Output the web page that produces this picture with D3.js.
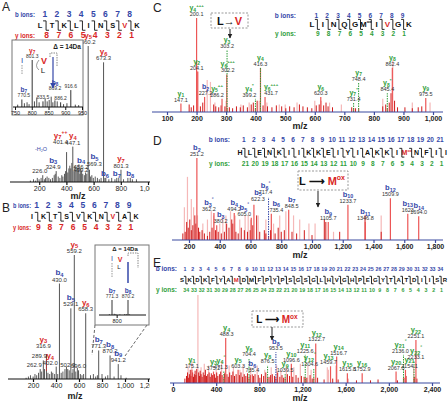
<!DOCTYPE html>
<html><head><meta charset="utf-8">
<script src="https://cdn.jsdelivr.net/npm/d3@7"></script>
<style>body{margin:0;background:#fff}svg{display:block;font-family:Arial,"Liberation Sans",sans-serif}</style>
</head><body><svg id="c" width="448" height="406"></svg>
<script>
// ---------------- DATA ----------------
const seqA = ["L","T","K","L","I","N","S","V","K"];
const seqB = ["I","K","T","S","V","K","N","V","A","K"];
const seqC = ["L","I","N","Q","G","M","I","V","G","K"];
const seqD = ["H","L","E","N","K","I","I","K","K","E","I","Y","I","A","K","K","I","M","N","F","I","I"];
const seqE = ["S","K","D","K","F","Y","A","M","D","M","F","P","Y","P","S","G","S","G","L","H","V","G","H","P","E","G","Y","T","A","T","D","I","I","S","R"];

const ticksA = [200,400,600,800,1000];
const ticksB = [200,400,600,800,1000,1200];
const ticksC = [100,200,300,400,500,600,700,800,900,1000];
const ticksD = [200,400,600,800,1000,1200,1400,1600,1800];
const ticksE = [0,400,800,1200,1600,2000,2400];
const ticksInsetA = [750,800,850,900,950];
const ticksInsetB = [800];

// Panel A labelled peaks
const aMz  = [560.2,673.3,447.1,401.4,456.2,569.3,324.9,226.0,499.2,801.3,683.4,770.5,869.5];
const aInt = [1.0,0.88,0.26,0.22,0.08,0.09,0.08,0.05,0.06,0.09,0.03,0.03,0.03];
const aIon = ["y5","y6","y4","y7++","b4","b5","b3","","","y7","b6","b7","b8"];
const aVal = ["560.2","673.3","447.1","401.4","456.2","569.3","324.9","226.0","499.2","801.3","","",""];
const aNoiseMz  = [135,158,172,186,199,214,238,247,258,271,283,297,310,318,340,352,366,374,386,394,410,418,425,432,440,462,470,478,485,492,505,512,520,532,541,550,578,587,598,612,628,642,655,690,712,733,757,785,820,852,885,915];
const aNoiseInt = [.01,.02,.01,.03,.02,.03,.02,.03,.04,.03,.02,.03,.05,.06,.04,.03,.05,.04,.06,.08,.07,.1,.12,.1,.14,.12,.09,.11,.1,.13,.1,.08,.06,.05,.07,.06,.04,.05,.03,.04,.03,.02,.03,.03,.02,.03,.02,.03,.02,.03,.02,.02];
// Panel A inset
const aiMz  = [801.3,770.5,833.5,869.2,886.2,916.6];
const aiInt = [1.0,0.16,0.12,0.14,0.1,0.36];
const aiIon = ["y7","b7","","b8","",""];
const aiVal = ["801.3","770.5","833.5","869.2","886.2","916.6"];
const aiNoiseMz  = [758,778,786,792,808,815,822,840,846,852,858,863,876,895,905,930,940];
const aiNoiseInt = [.05,.08,.1,.06,.12,.2,.1,.18,.12,.15,.22,.1,.12,.06,.08,.05,.04];

// Panel B labelled peaks
const bMz  = [559.2,430.0,529.1,658.3,316.9,402.0,771.3,870.2,941.2,289.9,262.9,502.3,596.0];
const bInt = [1.0,0.77,0.57,0.53,0.2,0.1,0.23,0.19,0.12,0.15,0.08,0.08,0.07];
const bIon = ["y5","b4","b5","y6","y3","y4","b7","b8","b9","","","",""];
const bVal = ["559.2","430.0","529.1","658.3","316.9","402.0","771.3","870.2","941.2","289.9","262.9","502.3","596.0"];
const bNoiseMz  = [140,160,178,201,217,232,248,275,300,330,345,360,372,388,415,445,460,478,491,515,540,548,572,586,612,626,640,700,725,745,760,800,830,850,905,965,1010];
const bNoiseInt = [.01,.02,.03,.02,.04,.03,.05,.06,.08,.05,.04,.06,.05,.04,.04,.05,.06,.08,.1,.07,.05,.08,.06,.09,.04,.03,.04,.03,.04,.02,.03,.04,.02,.03,.02,.03,.01];
// Panel B inset
const biMz  = [771.3,870.2];
const biInt = [1.0,1.0];
const biIon = ["b7","b8"];
const biVal = ["771.3","870.2"];
const biNoiseMz  = [755,785,795,820,850,860,880];
const biNoiseInt = [.05,.08,.05,.04,.06,.05,.04];

// Panel C
const cMz  = [200.1,204.1,227.2,147.1,303.2,302.2,286.2,416.3,399.2,431.7,620.3,731.4,748.4,845.4,862.4,975.5];
const cInt = [1.0,0.43,0.16,0.09,0.66,0.4,0.14,0.47,0.14,0.16,0.16,0.1,0.31,0.2,0.47,0.15];
const cIon = ["y4+++","y2","b2","y1","y3","y6+++","y5++","y4","y4*","y6+++","y6","y7*","y7","y8*","y8","y9"];
const cDarkMz  = [175,182,190,213,221,258,265,275,283,296,311,322,335,348,358,372,385,392,405,425,440,455,470,488,502,515,530,548,560,575,590,605,615,630,638,645,660,725,738,830,840,852,858,870,880,905,930,950,962];
const cDarkInt = [.08,.05,.07,.06,.1,.08,.06,.05,.07,.06,.05,.04,.06,.05,.07,.05,.08,.1,.12,.07,.06,.05,.07,.06,.04,.06,.05,.08,.06,.05,.04,.07,.08,.07,.1,.06,.05,.05,.04,.06,.08,.1,.2,.12,.05,.05,.04,.05,.06];
const cPinkMz  = [203,236,247,262,300,350,378,412,438,480,500,540,600,622,650,690,830,864,930,990];
const cPinkInt = [.43,.34,.32,.1,.12,.08,.1,.12,.1,.08,.08,.1,.12,.12,.1,.08,.14,.55,.1,.1];

// Panel D
const dMz  = [251.2,362.2,380.2,494.2,605.0,622.3,717.4,735.4,848.5,1105.7,1233.7,1346.8,1509.9,1623.0,1694.0];
const dInt = [1.0,0.33,0.18,0.33,0.27,0.43,0.52,0.32,0.37,0.22,0.43,0.22,0.51,0.32,0.29];
const dIon = ["b2","b3°","b3","b4","b5°","b5","b6°","b6","b7","b9","b10","b11","b12","b13","b14"];
const dDarkMz  = [160,175,185,195,205,215,225,238,245,262,270,285,300,320,335,350,372,390,410,430,445,460,478,485,505,520,540,560,580,598,615,640,660,690,700,730,760,780,800,820,870,900,950,1000,1080,1090,1180,1345,1450];
const dDarkInt = [.08,.1,.22,.15,.25,.12,.18,.3,.2,.15,.1,.12,.08,.05,.1,.15,.12,.1,.08,.1,.2,.15,.25,.2,.1,.08,.15,.12,.1,.12,.18,.3,.1,.12,.08,.12,.08,.15,.1,.12,.1,.08,.12,.06,.25,.22,.1,.3,.1];
const dPinkMz  = [170,190,215,230,255,290,320,345,360,400,420,440,470,500,530,565,585,600,650,700,750,790,830,880,920,980,1020,1140,1450];
const dPinkInt = [.4,.77,.5,.4,.3,.2,.25,.35,.3,.2,.3,.3,.35,.3,.25,.3,.3,.25,.3,.25,.2,.3,.35,.3,.25,.2,.2,.1,.3];

// Panel E
const eMz  = [175.1,375.2,471.3,488.3,603.3,704.4,735.4,876.5,953.5,1039.5,1096.6,1225.6,1304.6,1322.7,1459.7,1516.7,1615.8,1752.9,2067.0,2136.0,2154.1,2233.1,2251.1];
const eInt = [0.15,0.13,0.14,0.51,0.15,0.28,0.1,0.2,0.35,0.1,0.22,0.32,0.17,0.45,0.19,0.3,0.11,0.11,0.13,0.32,0.15,0.25,0.49];
const eIon = ["y1","y3","y4°","y4","y5","y6","b6","y8","b8","y9","y10","y11","y12°","y12","y13","y14","y15","y16","y20","y21°","y21","y22°","y22"];
const eDarkMz  = [110,125,135,145,152,160,168,182,190,198,205,212,220,238,245,252,260,270,280,290,300,310,322,335,345,355,365,385,395,405,415,430,442,455,478,500,512,525,540,555,570,585,615,630,645,660,675,690,715,745,760,790,805,820,840,860,890,905,920,940,970,990,1010,1025,1060,1080,1110,1140,1160,1190,1215,1240,1270,1290,1340,1400,1480,1530,1620,1700,1830,1900,2080,2140,2160,2240,2260];
const eDarkInt = [.05,.08,.12,.06,.1,.15,.08,.12,.07,.1,.14,.09,.16,.12,.08,.14,.1,.07,.12,.09,.15,.08,.1,.12,.07,.11,.09,.1,.06,.12,.08,.1,.13,.09,.11,.1,.07,.12,.09,.13,.08,.1,.09,.12,.07,.1,.08,.11,.09,.08,.1,.09,.06,.1,.08,.12,.07,.09,.1,.08,.12,.07,.09,.06,.1,.08,.07,.09,.06,.08,.07,.06,.09,.05,.06,.04,.05,.04,.05,.03,.03,.04,.03,.06,.08,.07,.05];
const ePinkMz  = [231,140,175,260,290,330,400,450,520,560,620,650,720,780,850,910,960,1000,1050,1120,1180,1250,1280,1430,1440,1510,2230];
const ePinkInt = [1.0,.2,.25,.18,.22,.2,.15,.25,.2,.18,.15,.2,.18,.2,.15,.18,.2,.15,.2,.18,.22,.2,.15,.18,.15,.2,.2];

// ---------------- DRAWING ----------------
const BLUE="#3447a8", RED="#d92626", GREEN="#2f9e3a", PEAK="#ec5656", PINK="#f5b8b8", DARK="#d01c1c", AX="#3a4aa0";
const svg = d3.select("#c");
const defs = svg.append("defs");
function marker(id,col){
  defs.append("marker").attr("id",id).attr("viewBox","0 0 10 10").attr("refX",9).attr("refY",5)
    .attr("markerWidth",5).attr("markerHeight",5).attr("orient","auto")
    .append("path").attr("d","M0,0L10,5L0,10z").attr("fill",col);
}
marker("mk","#222"); marker("mb",BLUE);
defs.append("clipPath").attr("id","left").append("rect").attr("x",0).attr("y",0).attr("width",150).attr("height",406);

function ionLabel(g,x,y,name,color,fs){
  if(!name) return;
  const m = name.match(/^([a-z])(\d+)(.*)$/);
  const t = g.append("text").attr("x",x).attr("y",y).attr("text-anchor","middle")
    .attr("fill",color).attr("font-size",fs).attr("font-weight","bold");
  t.append("tspan").text(m[1]);
  t.append("tspan").attr("font-size",fs*0.72).attr("dy",fs*0.22).text(m[2]);
  if(m[3]) t.append("tspan").attr("font-size",fs*0.62).attr("dy",-fs*0.7).text(m[3]);
}
function txt(g,x,y,s,o={}){
  const t=g.append("text").attr("x",x).attr("y",y).attr("text-anchor",o.anchor||"middle")
    .attr("font-size",o.fs||7).attr("font-weight",o.fw||"normal").attr("fill",o.fill||"#222").text(s);
  if(o.len) t.attr("textLength",o.len).attr("lengthAdjust","spacingAndGlyphs");
  return t;
}
function drawLines(g,xs,ys,mz,it,col,w,dash){
  g.append("g").selectAll("line").data(mz.map((m,i)=>[m,it[i]])).join("line")
    .attr("x1",d=>xs(d[0])).attr("x2",d=>xs(d[0])).attr("y1",ys(0)).attr("y2",d=>ys(d[1]))
    .attr("stroke",col).attr("stroke-width",w).attr("stroke-dasharray",dash||null);
}
function sequence(g,seq,o){
  const n=seq.length, step=(o.x1-o.x0)/(n-1), lx=i=>o.x0+i*step;
  seq.forEach((s,i)=>{
    const t=g.append("text").attr("x",lx(i)).attr("y",o.yLet).attr("text-anchor","middle")
      .attr("font-size",o.fs).attr("font-weight","bold").attr("fill",i===o.red?RED:"#111").text(s);
    if(o.supIdx!==undefined && i===o.supIdx) t.append("tspan").attr("font-size",o.fs*0.55).attr("dy",-o.fs*0.5).text("ox");
  });
  for(let i=0;i<n-1;i++){
    const bx=lx(i)+step/2, top=o.yLet-o.fs*0.95, bot=o.yLet+o.fs*0.3, h=o.hook;
    g.append("path").attr("d",`M${bx-h},${top}H${bx}V${bot}H${bx+h}`).attr("fill","none")
      .attr("stroke","#111").attr("stroke-width",o.sw||0.9);
    txt(g,bx-h*0.4,o.yNum,String(i+1),{fs:o.nfs,fill:BLUE,fw:"bold"});
    txt(g,bx+h*0.2,o.yY,String(n-1-i),{fs:o.nfs,fill:o.yColor,fw:"bold"});
  }
  txt(g,o.lx,o.yNum,"b ions:",{fs:o.lfs,fill:BLUE,fw:"bold",anchor:"end",len:o.llen});
  txt(g,o.lx,o.yY,"y ions:",{fs:o.lfs,fill:o.yColor,fw:"bold",anchor:"end",len:o.llen});
}
function axis(g,xs,y,ticks,o){
  const a=d3.axisBottom(xs).tickValues(ticks).tickSize(3).tickSizeOuter(0).tickPadding(1.5).tickFormat(d3.format(","));
  const ag=g.append("g").attr("transform",`translate(0,${y})`).call(a);
  ag.select(".domain").remove();
  ag.selectAll(".tick line").attr("stroke",o.col).attr("stroke-width",o.w||1);
  ag.selectAll(".tick text").attr("font-size",o.fs).attr("fill","#222").attr("font-weight",o.fw||"normal")
    .attr("font-family","Arial,'Liberation Sans',sans-serif");
  g.append("line").attr("x1",o.x0).attr("x2",o.x1).attr("y1",y).attr("y2",y).attr("stroke",o.col).attr("stroke-width",o.w||1);
}
function labels(g,xs,ys,mz,it,ion,val,o){
  mz.forEach((m,i)=>{
    const sh=(o.shift&&(o.shift[val[i]]||o.shift[ion[i]]))||[0,0];
    const x=xs(m)+sh[0], top=ys(it[i])+sh[1];
    const col=ion[i]&&ion[i][0]==="b"?BLUE:o.yColor;
    if(val[i]) txt(g,x,top-2,val[i],{fs:o.vfs,fill:"#333"});
    ionLabel(g,x,top-2-(val[i]?o.vfs+0.5:0),ion[i],col,o.ifs);
  });
}

// ===== Panel A =====
{
  const g=svg.append("g").attr("clip-path","url(#left)");
  txt(g,2,11,"A",{fs:12,anchor:"start"});
  sequence(g,seqA,{x0:40,x1:137,yNum:17,yLet:28,yY:38,fs:7.5,nfs:8.5,lfs:8,llen:20,hook:3,red:7,yColor:RED,lx:35});
  const x=d3.scaleLinear([0,1000],[12,148]), y=d3.scaleLinear([0,1],[182,46]);
  drawLines(g,x,y,aNoiseMz,aNoiseInt,"#333",0.8);
  drawLines(g,x,y,aMz,aInt,"#555",1);
  axis(g,x,182,ticksA,{col:"#111",fs:7,x0:10,x1:150,w:1.2});
  labels(g,x,y,aMz,aInt,aIon,aVal,{vfs:6,ifs:8,yColor:RED,shift:{"y7++":[-6,-6],"b4":[7,0],"b3":[-3,0],"b5":[5,-2],"226.0":[-3,0],"499.2":[1,0]}});
  txt(g,41,151,"-H₂O",{fs:5.5,fill:BLUE});
  txt(g,78,199,"m/z",{fs:9,fw:"bold"});
  // inset
  g.append("rect").attr("x",12).attr("y",40).attr("width",71).attr("height",75).attr("fill","#fff").attr("stroke","#777").attr("stroke-width",1);
  const xi=d3.scaleLinear([750,950],[15,82]), yi=d3.scaleLinear([0,1],[107,60]);
  drawLines(g,xi,yi,aiNoiseMz,aiNoiseInt,"#222",0.8);
  drawLines(g,xi,yi,aiMz,aiInt,"#333",1);
  axis(g,xi,107,ticksInsetA,{col:"#111",fs:5.5,x0:13,x1:83});
  labels(g,xi,yi,aiMz,aiInt,aiIon,aiVal,{vfs:5,ifs:6.5,yColor:RED,shift:{"b8":[0,-8],"b7":[2,0]}});
  txt(g,67,49,"Δ = 14Da",{fs:6.5,fw:"bold"});
  g.append("path").attr("d","M50,57V53H57V66").attr("fill","none").attr("stroke","#888").attr("stroke-dasharray","1.5,1");
  g.append("line").attr("x1",53).attr("x2",53).attr("y1",57).attr("y2",88).attr("stroke",BLUE).attr("stroke-width",1.2).attr("marker-end","url(#mb)");
  txt(g,22,63,"I",{fs:8,fill:BLUE});
  g.append("line").attr("x1",22).attr("x2",22).attr("y1",65).attr("y2",75).attr("stroke","#999").attr("stroke-dasharray","1.5,1");
  txt(g,44,64,"V",{fs:9,fill:RED,fw:"bold"});
  txt(g,43,73,"L",{fs:8});
  g.append("path").attr("d","M39,70Q34,66 39,60").attr("fill","none").attr("stroke","#555").attr("stroke-width",0.6);
}

// ===== Panel B =====
{
  const g=svg.append("g").attr("clip-path","url(#left)");
  txt(g,2,212,"B",{fs:12,anchor:"start"});
  sequence(g,seqB,{x0:32,x1:136,yNum:208,yLet:219,yY:230,fs:7,nfs:8.5,lfs:8,llen:18,hook:3,red:7,yColor:RED,lx:31});
  const x=d3.scaleLinear([0,1200],[10,148]), y=d3.scaleLinear([0,1],[379,255]);
  drawLines(g,x,y,bNoiseMz,bNoiseInt,"#333",0.8);
  drawLines(g,x,y,bMz,bInt,"#555",1);
  g.append("line").attr("x1",x(316.9)).attr("x2",x(316.9)).attr("y1",y(0.2)).attr("y2",y(0.06)).attr("stroke",RED).attr("stroke-dasharray","1.5,1");
  axis(g,x,379,ticksB,{col:"#111",fs:7,x0:8,x1:150,w:1.2});
  labels(g,x,y,bMz,bInt,bIon,bVal,{vfs:6,ifs:8,yColor:RED,shift:{"y3":[-3,-4],"y4":[-6,0],"289.9":[-4,0],"262.9":[-6,0]}});
  txt(g,75,399,"m/z",{fs:9,fw:"bold"});
  // connectors
  g.append("path").attr("d","M95,325L92,355M147,325L125,356").attr("stroke","#666").attr("stroke-dasharray","3,2").attr("fill","none");
  g.append("rect").attr("x",95).attr("y",245).attr("width",54).attr("height",80).attr("fill","#fff").attr("stroke","#777").attr("stroke-width",1);
  const xi=d3.scaleLinear([771.3,870.2],[112,128]), yi=d3.scaleLinear([0,1],[315,300]);
  drawLines(g,xi,yi,biNoiseMz,biNoiseInt,"#222",0.8);
  drawLines(g,xi,yi,biMz,biInt,"#333",1);
  axis(g,xi,315,ticksInsetB,{col:"#111",fs:5.5,x0:99,x1:146});
  labels(g,xi,yi,biMz,biInt,biIon,biVal,{vfs:5,ifs:6.5,yColor:RED});
  txt(g,125,251,"Δ = 14Da",{fs:6,fw:"bold"});
  g.append("line").attr("x1",128).attr("x2",128).attr("y1",262).attr("y2",283).attr("stroke",BLUE).attr("stroke-width",1.5);
  g.append("path").attr("d","M128,256V253H138V268").attr("fill","none").attr("stroke","#888").attr("stroke-dasharray","1.5,1");
  txt(g,112,261,"I",{fs:7,fill:BLUE});
  g.append("line").attr("x1",112).attr("x2",112).attr("y1",263).attr("y2",277).attr("stroke","#999").attr("stroke-dasharray","1.5,1");
  txt(g,120,262,"V",{fs:7,fill:RED,fw:"bold"});
  txt(g,119,269,"L",{fs:6});
}

// ===== Panel C =====
{
  const g=svg.append("g");
  txt(g,153,12,"C",{fs:12,anchor:"start"});
  sequence(g,seqC,{x0:312,x1:409,yNum:18,yLet:27,yY:36,fs:8,nfs:6.5,lfs:6.5,hook:2.5,red:7,supIdx:5,yColor:GREEN,lx:296});
  const x=d3.scaleLinear([100,1000],[167,433]), y=d3.scaleLinear([0,1],[112,18]);
  drawLines(g,x,y,cPinkMz,cPinkInt,PINK,1.2);
  drawLines(g,x,y,cDarkMz,cDarkInt,DARK,1);
  const dotted=new Set(["y3","y4*","y7","y7*","y8*"]);
  const solid=cMz.map((m,i)=>dotted.has(cIon[i])?0.04:cInt[i]);
  drawLines(g,x,y,cMz,solid,PEAK,1.2);
  cMz.forEach((m,i)=>{ if(dotted.has(cIon[i]) || (cIon[i]==="y4"))
    g.append("line").attr("x1",x(m)).attr("x2",x(m)).attr("y1",y(0)).attr("y2",y(cInt[i])).attr("stroke",GREEN).attr("stroke-width",1).attr("stroke-dasharray","1.5,1");});
  axis(g,x,112,ticksC,{col:AX,fs:7,fw:"bold",x0:152,x1:443,w:1.2});
  labels(g,x,y,cMz,cInt,cIon,cMz.map(d=>d.toFixed(1)),{vfs:5.5,ifs:7,yColor:GREEN,
    shift:{"302.2":[1,0],"204.1":[-1,0],"286.2":[-5,0],"399.2":[-6,0],"431.7":[6,0],"227.2":[1,0]}});
  txt(g,300,129,"m/z",{fs:9,fw:"bold"});
  g.append("rect").attr("x",211).attr("y",13).attr("width",37).attr("height",15).attr("fill","#fff").attr("stroke","#999").attr("stroke-dasharray","2,1.5");
  const t=txt(g,229.5,25,"L→",{fs:11,fw:"bold",fill:"#111"}); t.append("tspan").attr("fill",RED).text("V");
  g.append("line").attr("x1",230).attr("x2",230).attr("y1",29).attr("y2",38).attr("stroke","#222").attr("stroke-width",1).attr("marker-end","url(#mk)");
}

// ===== Panel D =====
{
  const g=svg.append("g");
  txt(g,153,145,"D",{fs:12,anchor:"start"});
  sequence(g,seqD,{x0:240,x1:446,yNum:142,yLet:155,yY:166,fs:7,nfs:6.5,lfs:6.5,hook:2.5,red:17,supIdx:17,yColor:GREEN,lx:230});
  const x=d3.scaleLinear([200,1800],[189,435]), y=d3.scaleLinear([0,1],[240,158]);
  drawLines(g,x,y,dPinkMz,dPinkInt,PINK,1.2);
  drawLines(g,x,y,dDarkMz,dDarkInt,DARK,1);
  const dotted=new Set(["b6°"]);
  drawLines(g,x,y,dMz,dMz.map((m,i)=>dotted.has(dIon[i])?0.05:dInt[i]),PEAK,1.2);
  dMz.forEach((m,i)=>{ if(dotted.has(dIon[i]))
    g.append("line").attr("x1",x(m)).attr("x2",x(m)).attr("y1",y(0)).attr("y2",y(dInt[i])).attr("stroke",BLUE).attr("stroke-width",1).attr("stroke-dasharray","1.5,1");});
  axis(g,x,240,ticksD,{col:AX,fs:7,fw:"bold",x0:172,x1:443,w:1.2});
  labels(g,x,y,dMz,dInt,dIon,dMz.map(d=>d===1623?"1623":d.toFixed(1)),{vfs:5.5,ifs:7.5,yColor:GREEN,
    shift:{"362.2":[-5,0],"380.2":[4,0],"605.0":[-7,0],"622.3":[4,-2],"717.4":[-3,-1],"735.4":[5,0],"848.5":[3,0]}});
  txt(g,300,258,"m/z",{fs:9,fw:"bold"});
  g.append("rect").attr("x",298).attr("y",171).attr("width",50).attr("height",19).attr("fill","#fff").attr("stroke","#999").attr("stroke-dasharray","2,1.5");
  const t=txt(g,322,185,"L ⟶ ",{fs:11,fw:"bold",fill:"#111"});
  t.append("tspan").attr("fill",RED).text("M"); t.append("tspan").attr("fill",RED).attr("font-size",7).attr("dy",-5).text("ox");
  g.append("line").attr("x1",318).attr("x2",318).attr("y1",191).attr("y2",207).attr("stroke","#222").attr("stroke-width",1).attr("marker-end","url(#mk)");
}

// ===== Panel E =====
{
  const g=svg.append("g");
  txt(g,153,267,"E",{fs:12,anchor:"start"});
  sequence(g,seqE,{x0:182,x1:445,yNum:271,yLet:282,yY:292,fs:6,nfs:5.3,lfs:6.5,hook:2,red:7,yColor:GREEN,lx:177});
  const x=d3.scaleLinear([0,2400],[173,432]), y=d3.scaleLinear([0,1],[383,295]);
  drawLines(g,x,y,ePinkMz,ePinkInt,PINK,1.2);
  drawLines(g,x,y,eDarkMz,eDarkInt,DARK,1);
  const dotted=new Set(["y4°","y6","y8","b8","y9","y11","y12°","y21°","y22°"]);
  drawLines(g,x,y,eMz,eMz.map((m,i)=>dotted.has(eIon[i])?0.06:eInt[i]),PEAK,1.2);
  eMz.forEach((m,i)=>{ if(dotted.has(eIon[i]))
    g.append("line").attr("x1",x(m)).attr("x2",x(m)).attr("y1",y(0)).attr("y2",y(eInt[i])).attr("stroke",eIon[i][0]==="b"?BLUE:GREEN).attr("stroke-width",1).attr("stroke-dasharray","1.5,1");});
  axis(g,x,383,ticksE,{col:AX,fs:7,fw:"bold",x0:170,x1:440,w:1.2});
  labels(g,x,y,eMz,eInt,eIon,eMz.map(d=>d.toFixed(1)),{vfs:5.5,ifs:7.5,yColor:GREEN,
    shift:{"471.3":[-3,0],"488.3":[1,0],"1304.6":[-4,0],"1322.7":[1,0],"2136.0":[-3,0],"2154.1":[4,0],"2233.1":[2,0],"1459.7":[-2,0],"1516.7":[2,0]}});
  txt(g,300,401,"m/z",{fs:9,fw:"bold"});
  g.append("rect").attr("x",252).attr("y",311).attr("width",51).attr("height",16).attr("fill","#fff").attr("stroke","#999").attr("stroke-dasharray","2,1.5");
  const t=txt(g,277,323,"L ⟶ ",{fs:10,fw:"bold",fill:"#111"});
  t.append("tspan").attr("fill",RED).text("M"); t.append("tspan").attr("fill",RED).attr("font-size",6.5).attr("dy",-4.5).text("ox");
  g.append("line").attr("x1",272).attr("x2",272).attr("y1",327).attr("y2",340).attr("stroke","#222").attr("stroke-width",1).attr("marker-end","url(#mk)");
}
</script></body></html>
